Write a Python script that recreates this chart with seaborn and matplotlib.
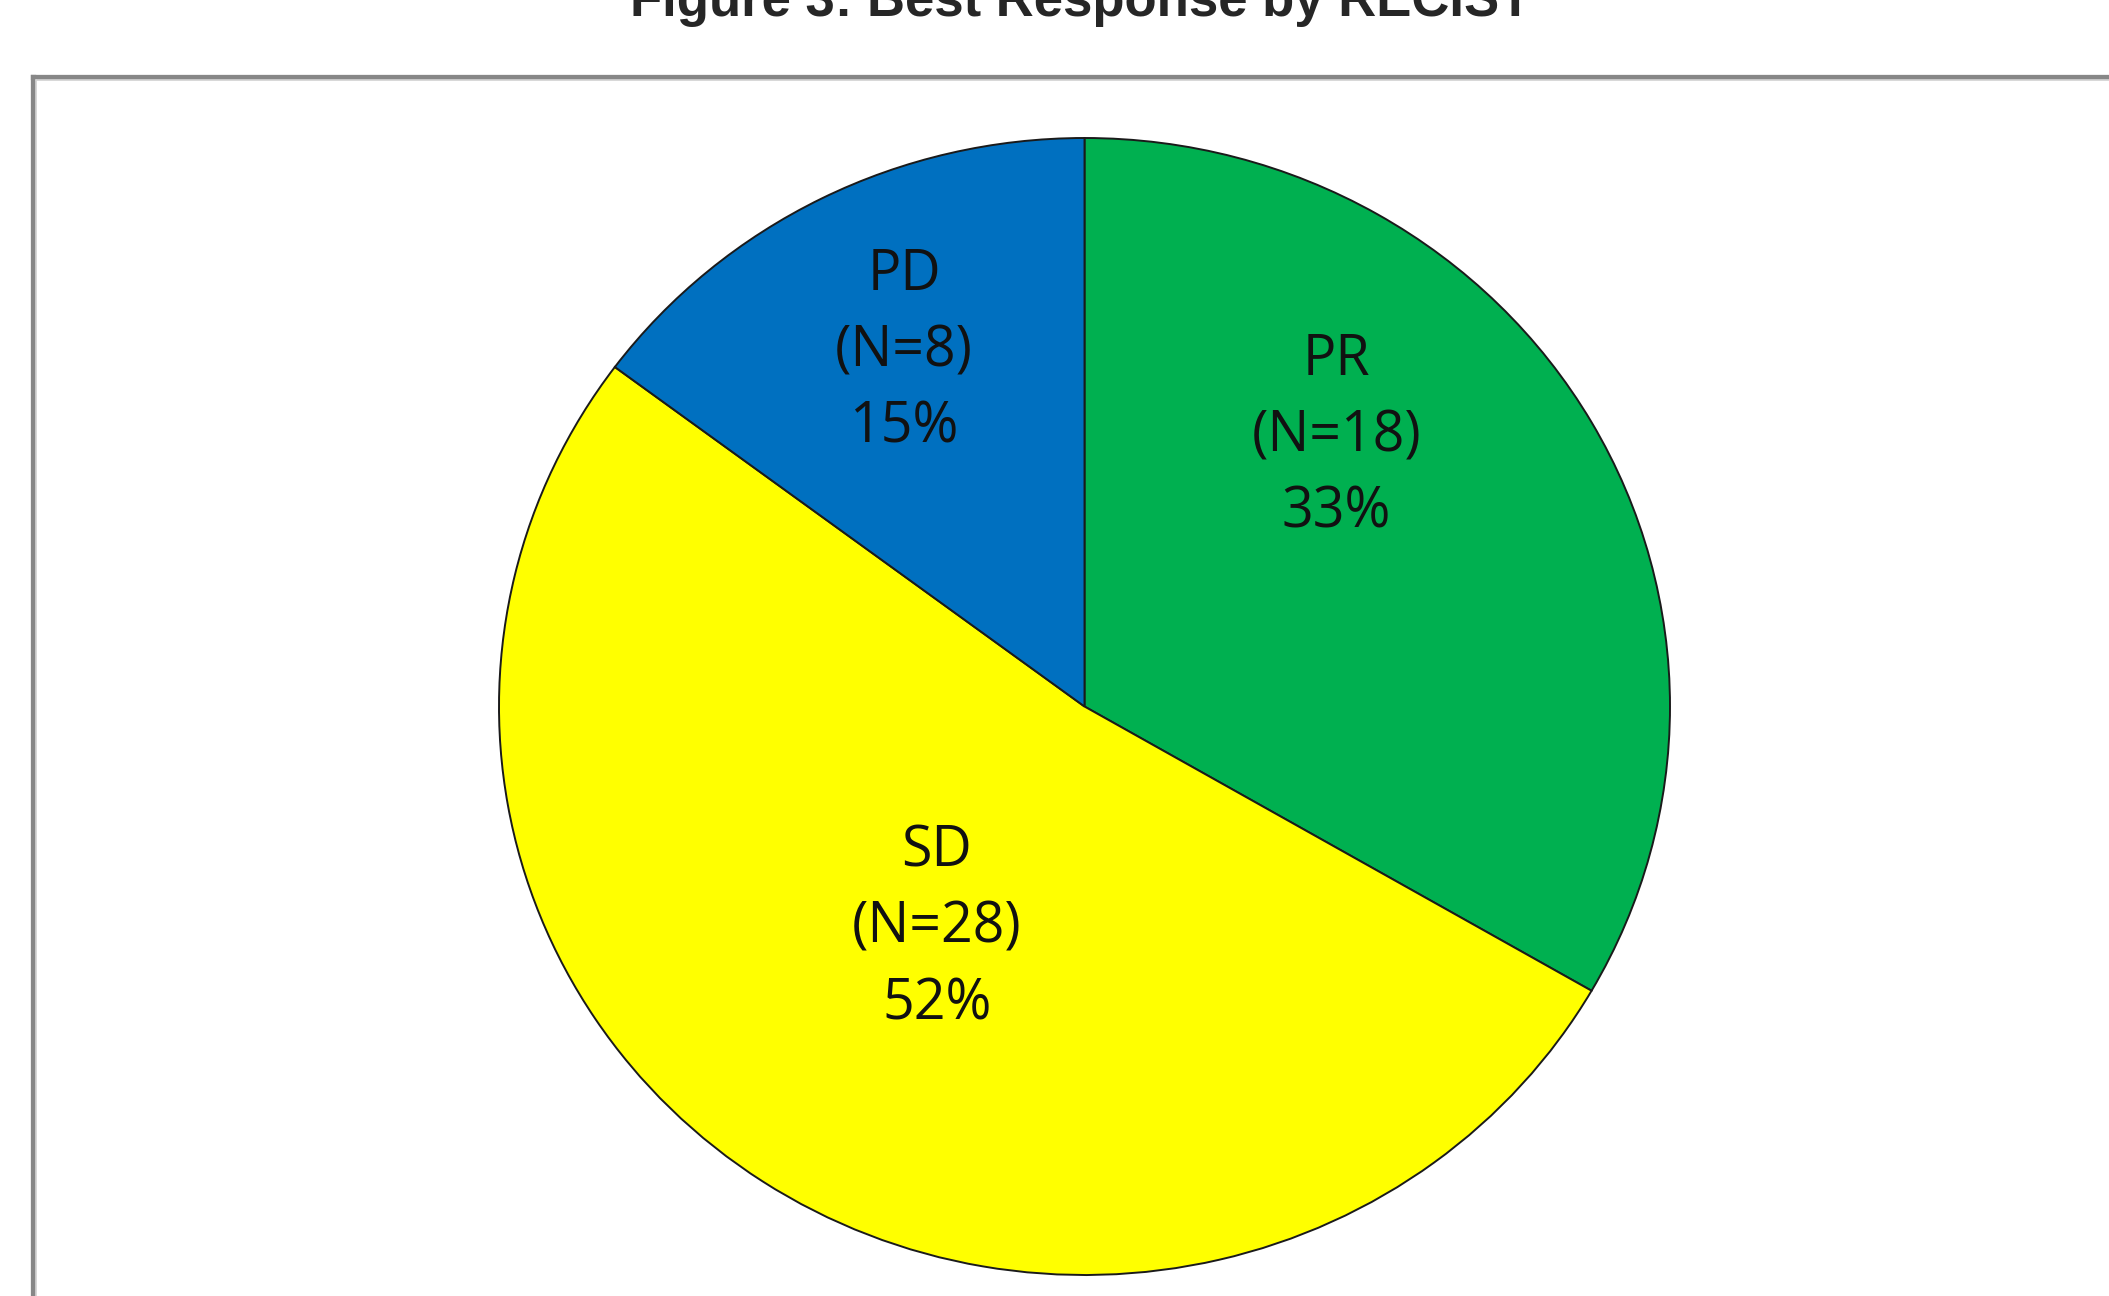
import matplotlib
matplotlib.use("Agg")
import matplotlib.pyplot as plt
from matplotlib.lines import Line2D
import seaborn as sns

# Best response by RECIST
categories = ["PR", "SD", "PD"]
counts = [18, 28, 8]
colors = ["#00B050", "#FFFF00", "#0070C0"]

# label anchor (in pie-radius units) for each category
label_pos = [(0.43, 0.474), (-0.252, -0.39), (-0.308, 0.624)]

sns.set_theme(style="white")
plt.rcParams["font.family"] = ["Open Sans", "DejaVu Sans"]

W, H = 2109, 1296
fig = plt.figure(figsize=(W / 100, H / 100), dpi=100)
fig.patch.set_facecolor("white")

# chart area border (top and left edges visible)
bx, by = 32.5 / W, 1 - 76.5 / H
fig.add_artist(Line2D([bx, bx], [-0.05, by], transform=fig.transFigure,
                      color="#878787", lw=3.8, solid_capstyle="projecting"))
fig.add_artist(Line2D([bx, 1.05], [by, by], transform=fig.transFigure,
                      color="#878787", lw=3.8, solid_capstyle="projecting"))
fig.add_artist(Line2D([bx + 3.5 / W, 1.05], [by - 3.2 / H, by - 3.2 / H],
                      transform=fig.transFigure, color="#d4d4d4", lw=1.2))
fig.add_artist(Line2D([bx + 3.2 / W, bx + 3.2 / W], [-0.05, by - 3.5 / H],
                      transform=fig.transFigure, color="#d4d4d4", lw=1.2))

fig.text(1081 / W, 1 - 16 / H, "Figure 3: Best Response by RECIST",
         ha="center", va="baseline", fontsize=38, fontweight="bold",
         family=["Liberation Sans", "DejaVu Sans"])

cx, cy, rx, ry = 1084.5, 706.5, 585.5, 568.5
ax = fig.add_axes([(cx - rx) / W, (H - cy - ry) / H, 2 * rx / W, 2 * ry / H])
ax.pie(counts, colors=colors, startangle=90, counterclock=False,
       wedgeprops=dict(edgecolor="#1a1a1a", linewidth=1.4))
ax.set_aspect("auto")
ax.set_xlim(-1, 1)
ax.set_ylim(-1, 1)
ax.axis("off")

total = sum(counts)
for cat, n, (lx, ly) in zip(categories, counts, label_pos):
    pct = round(100 * n / total)
    ax.text(lx, ly, f"{cat}\n(N={n})\n{pct}%", ha="center", va="center",
            multialignment="center", fontsize=40, color="#111111",
            linespacing=1.45)

fig.savefig("out.png", dpi=100)
